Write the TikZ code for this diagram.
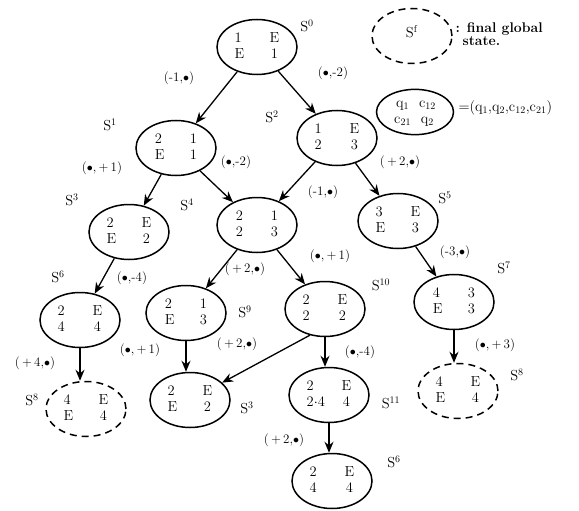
\documentclass[tikz,border=0pt]{standalone}
\usetikzlibrary{arrows.meta,positioning,shapes.geometric}
\newcommand{\dt}{$\bullet$}
\newcommand{\gs}[4]{\begin{tabular}{@{}p{35pt}@{}c@{}}#1&#2\\#3&#4\end{tabular}}

\begin{document}
\begin{tikzpicture}[x=1pt,y=-1pt,
  st/.style={draw,ellipse,line width=1.5pt,minimum width=80pt,minimum height=55pt,inner sep=0pt,font=\fontsize{14.5}{16}\selectfont},
  fin/.style={st,dash pattern=on 7pt off 5pt},
  nm/.style={font=\fontsize{14.5}{16}\selectfont},
  lb/.style={font=\fontsize{13}{14}\selectfont},
  ar/.style={->,line width=1.3pt},>={Stealth[length=11pt,width=9pt]}]
\useasboundingbox (0,0) rectangle (579,511);
% states
\node[st] (s0) at (257,47) {\gs{1}{E}{E}{1}};
\node[st] (s1) at (176,148) {\gs{2}{1}{E}{1}};
\node[st] (s2) at (337,138) {\gs{1}{E}{2}{3}};
\node[st] (s3) at (129,232) {\gs{2}{E}{E}{2}};
\node[st] (s4) at (257,225) {\gs{2}{1}{2}{3}};
\node[st] (s5) at (398,221) {\gs{3}{E}{E}{3}};
\node[st] (s6) at (80,320) {\gs{2}{E}{4}{4}};
\node[st] (s9) at (186,313) {\gs{2}{1}{E}{3}};
\node[st] (s10) at (325,309) {\gs{2}{E}{2}{2}};
\node[st] (s7) at (454,302) {\gs{4}{3}{E}{3}};
\node[fin] (s8) at (86,409) {\gs{4}{E}{E}{4}};
\node[st] (s3b) at (190,400) {\gs{2}{E}{E}{2}};
\node[st] (s11) at (329,395) {\gs{2}{E}{2$\cdot$4}{4}};
\node[fin] (s8b) at (458,391) {\gs{4}{E}{E}{4}};
\node[st] (s6b) at (332,481) {\gs{2}{E}{4}{4}};
% legend
\node[fin,font=\fontsize{14.5}{16}\selectfont] (kf) at (412,36) {\raisebox{9pt}{S$^{\mathrm{f}}$}};
\node[anchor=west,align=left,font=\fontsize{14}{13}\selectfont\bfseries] (kft) at (452,34) {: final global\\\hspace*{7pt}state.};
\node[st,minimum width=77pt,minimum height=44pt] (kq) at (415,112) {\begin{tabular}{@{}c@{\hspace{8pt}}c@{}}q$_1$&c$_{12}$\\c$_{21}$&q$_2$\end{tabular}};
\node[anchor=west,font=\fontsize{14.5}{14}\selectfont] (kqt) at (455,108) {=(q$_1$,q$_2$,c$_{12}$,c$_{21}$)};
% state names
\node[nm] (n0) at (307,26) {S$^0$};
\node[nm] (n1) at (110,125) {S$^1$};
\node[nm] (n2) at (272,117) {S$^2$};
\node[nm] (n3) at (72,200) {S$^3$};
\node[nm] (n4) at (187,205) {S$^4$};
\node[nm] (n5) at (445,198) {S$^5$};
\node[nm] (n6) at (58,277) {S$^6$};
\node[nm] (n9) at (245,312) {S$^9$};
\node[nm] (n10) at (381,285) {S$^{10}$};
\node[nm] (n7) at (504,268) {S$^7$};
\node[nm] (n8) at (32,400) {S$^8$};
\node[nm] (n3b) at (247,408) {S$^3$};
\node[nm] (n11) at (391,403) {S$^{11}$};
\node[nm] (n8b) at (517,375) {S$^8$};
\node[nm] (n6b) at (394,462) {S$^6$};
% transitions
\draw[ar] (s0) -- (s1);
\draw[ar] (s0) -- (s2);
\draw[ar] (s1) -- (s3);
\draw[ar] (s1) -- (s4);
\draw[ar] (s2) -- (s4);
\draw[ar] (s2) -- (s5);
\draw[ar] (s3) -- (s6);
\draw[ar] (s4) -- (s9);
\draw[ar] (s4) -- (s10);
\draw[ar] (s5) -- (s7);
\draw[ar] (s6.south) -- (s6.south |- s8.north);
\draw[ar] (s9.south) -- (s9.south |- s3b.north);
\draw[ar] (s10.240) -- (s3b);
\draw[ar] (s10.south) -- (s10.south |- s11.north);
\draw[ar] (s7.south) -- (s7.south |- s8b.north);
\draw[ar] (s11.south) -- (s11.south |- s6b.north);
% moves
\node[lb] (m01) at (179,78) {(-1,\dt)};
\node[lb] (m02) at (333,73) {(\dt,-2)};
\node[lb] (m13) at (102,168) {(\dt,\,+\,1)};
\node[lb] (m14) at (236,162) {(\dt,-2)};
\node[lb] (m25) at (400,162) {(\,+\,2,\dt)};
\node[lb] (m24) at (323,192) {(-1,\dt)};
\node[lb] (m36) at (132,278) {(\dt,-4)};
\node[lb] (m49) at (245,269) {(\,+\,2,\dt)};
\node[lb] (m410) at (330,256) {(\dt,\,+\,1)};
\node[lb] (m57) at (455,252) {(-3,\dt)};
\node[lb] (m68) at (35,363) {(\,+\,4,\dt)};
\node[lb] (m93) at (140,350) {(\dt,\,+\,1)};
\node[lb] (m103) at (237,344) {(\,+\,2,\dt)};
\node[lb] (m1011) at (360,352) {(\dt,-4)};
\node[lb] (m78) at (495,345) {(\dt,\,+\,3)};
\node[lb] (m116) at (284,440) {(\,+\,2,\dt)};
\end{tikzpicture}
\end{document}
